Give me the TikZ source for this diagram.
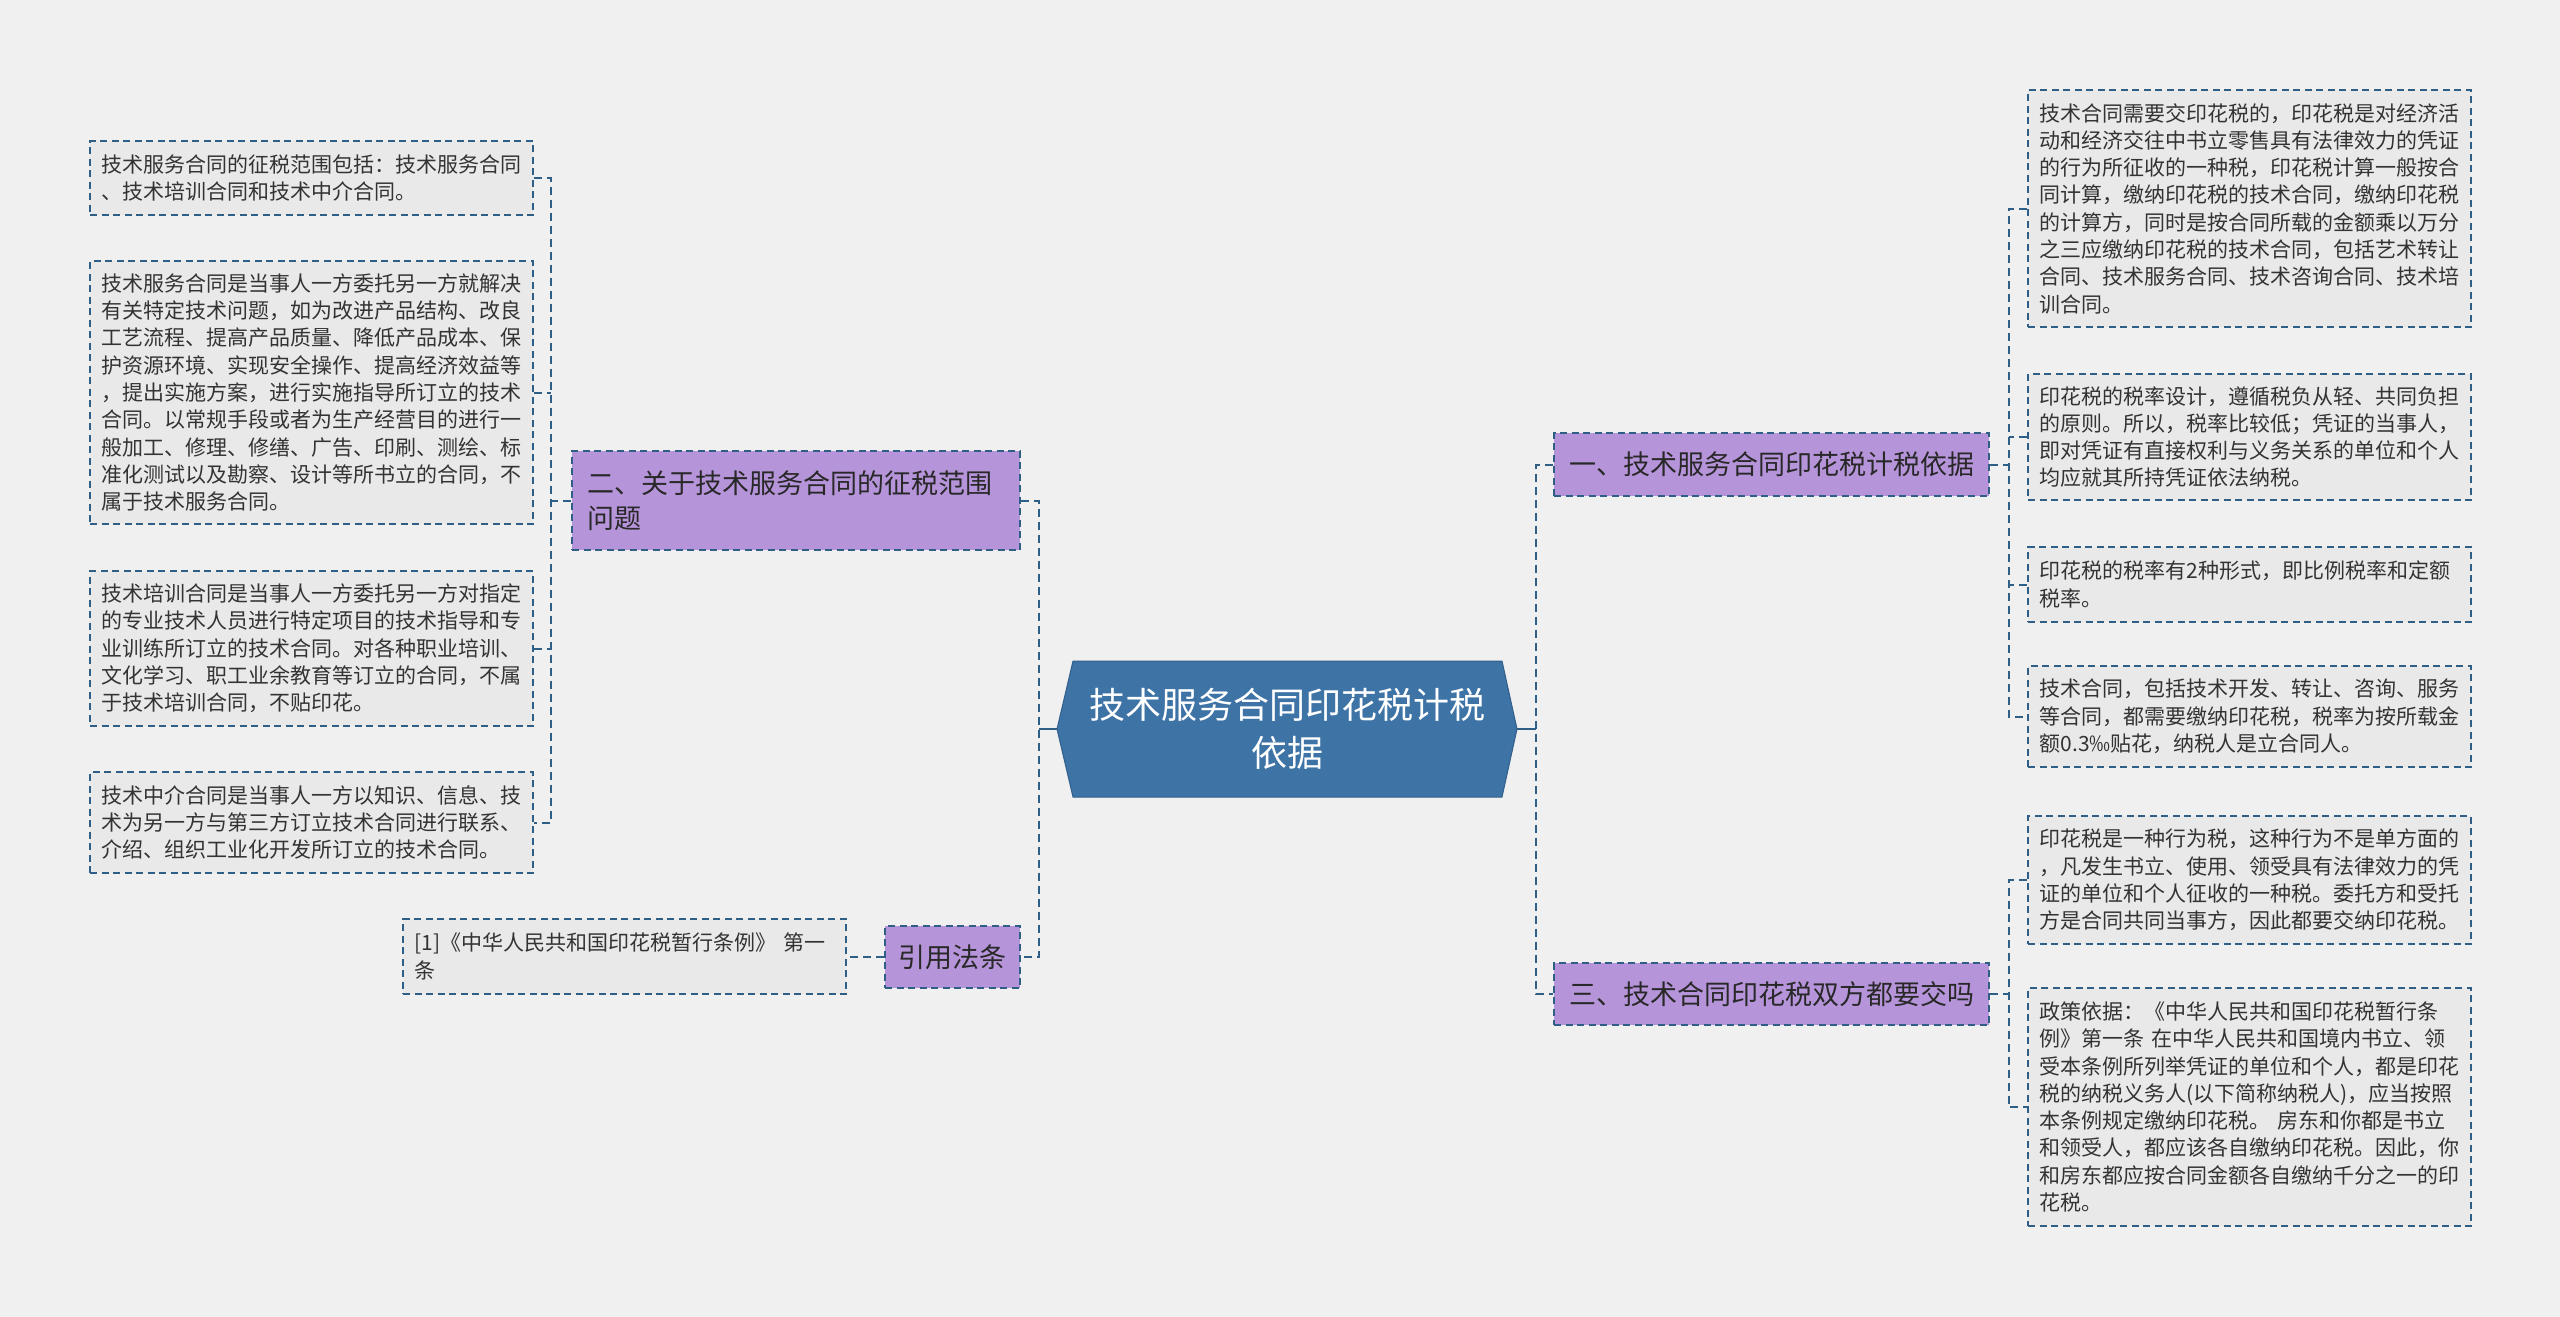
\documentclass[tikz,border=0pt]{standalone}
\usepackage{fontspec}
\setmainfont{Noto Sans CJK SC}
\definecolor{bgc}{RGB}{240,240,240}
\definecolor{linec}{RGB}{47,95,135}
\definecolor{leaffill}{RGB}{233,233,233}
\definecolor{purp}{RGB}{182,148,218}
\definecolor{hexfill}{RGB}{62,115,166}
\definecolor{hexline}{RGB}{50,95,140}
\definecolor{txt}{RGB}{51,51,51}
\definecolor{btxt}{RGB}{40,40,40}
\tikzset{
  leaf/.style={draw=linec, line width=1.6pt, dash pattern=on 7pt off 4.5pt, fill=leaffill,
    text=txt, font=\fontsize{21}{27.3}\selectfont, align=left, text width=420pt,
    inner xsep=11.5pt, inner ysep=0pt},
  branch/.style={draw=linec, line width=1.6pt, dash pattern=on 7pt off 4.5pt, fill=purp,
    text=btxt, font=\fontsize{27}{35}\selectfont, inner ysep=0pt},
  hub/.style={text=white, font=\fontsize{36}{48}\selectfont, align=center,
    minimum width=460pt, minimum height=136pt, inner sep=0pt},
  conn/.style={draw=linec, line width=2pt, dash pattern=on 8pt off 5pt},
  stub/.style={draw=linec, line width=2.4pt}
}
\begin{document}
\begin{tikzpicture}[x=1pt,y=-1pt]
\fill[bgc] (0,0) rectangle (2560,1317);
\useasboundingbox (0,0) rectangle (2560,1317);

% center hexagon
\fill[hexfill, draw=hexline, line width=1pt] (1073,661) -- (1502,661) -- (1517,729) -- (1502,797) -- (1073,797) -- (1057,729) -- cycle;
\node[hub] (c) at (1287,729) {技术服务合同印花税计税\\依据};

% main branches
\node[branch, align=left, text width=418pt, inner xsep=15pt, minimum height=99pt] (n2) at (796,500.5) {二、关于技术服务合同的征税范围\\问题};
\node[branch, align=center, text width=108pt, inner xsep=13.5pt, minimum height=62pt] (n4) at (952.5,957) {引用法条};
\node[branch, align=left, text width=405pt, inner xsep=15pt, minimum height=63pt] (n1) at (1771.5,464.5) {一、技术服务合同印花税计税依据};
\node[branch, align=left, text width=405pt, inner xsep=15pt, minimum height=62pt] (n3) at (1771.5,994) {三、技术合同印花税双方都要交吗};

% left leaves
\node[leaf, minimum height=74pt] (L1) at (311.5,178) {技术服务合同的征税范围包括：技术服务合同\\、技术培训合同和技术中介合同。};
\node[leaf, minimum height=263pt] (L2) at (311.5,392.5) {技术服务合同是当事人一方委托另一方就解决\\有关特定技术问题，如为改进产品结构、改良\\工艺流程、提高产品质量、降低产品成本、保\\护资源环境、实现安全操作、提高经济效益等\\，提出实施方案，进行实施指导所订立的技术\\合同。以常规手段或者为生产经营目的进行一\\般加工、修理、修缮、广告、印刷、测绘、标\\准化测试以及勘察、设计等所书立的合同，不\\属于技术服务合同。};
\node[leaf, minimum height=155pt] (L3) at (311.5,648.5) {技术培训合同是当事人一方委托另一方对指定\\的专业技术人员进行特定项目的技术指导和专\\业训练所订立的技术合同。对各种职业培训、\\文化学习、职工业余教育等订立的合同，不属\\于技术培训合同，不贴印花。};
\node[leaf, minimum height=101pt] (L4) at (311.5,822.5) {技术中介合同是当事人一方以知识、信息、技\\术为另一方与第三方订立技术合同进行联系、\\介绍、组织工业化开发所订立的技术合同。};
\node[leaf, minimum height=75pt] (cit) at (624.5,956.5) {[1]《中华人民共和国印花税暂行条例》 第一\\条};

% right leaves
\node[leaf, minimum height=237pt] (R1) at (2249.5,208.5) {技术合同需要交印花税的，印花税是对经济活\\动和经济交往中书立零售具有法律效力的凭证\\的行为所征收的一种税，印花税计算一般按合\\同计算，缴纳印花税的技术合同，缴纳印花税\\的计算方，同时是按合同所载的金额乘以万分\\之三应缴纳印花税的技术合同，包括艺术转让\\合同、技术服务合同、技术咨询合同、技术培\\训合同。};
\node[leaf, minimum height=126pt] (R2) at (2249.5,437) {印花税的税率设计，遵循税负从轻、共同负担\\的原则。所以，税率比较低；凭证的当事人，\\即对凭证有直接权利与义务关系的单位和个人\\均应就其所持凭证依法纳税。};
\node[leaf, minimum height=75pt] (R3) at (2249.5,584.5) {印花税的税率有2种形式，即比例税率和定额\\税率。};
\node[leaf, minimum height=101pt] (R4) at (2249.5,716.5) {技术合同，包括技术开发、转让、咨询、服务\\等合同，都需要缴纳印花税，税率为按所载金\\额0.3‰贴花，纳税人是立合同人。};
\node[leaf, minimum height=128pt] (R5) at (2249.5,880) {印花税是一种行为税，这种行为不是单方面的\\，凡发生书立、使用、领受具有法律效力的凭\\证的单位和个人征收的一种税。委托方和受托\\方是合同共同当事方，因此都要交纳印花税。};
\node[leaf, minimum height=238pt] (R6) at (2249.5,1107) {政策依据：《中华人民共和国印花税暂行条\\例》第一条 在中华人民共和国境内书立、领\\受本条例所列举凭证的单位和个人，都是印花\\税的纳税义务人(以下简称纳税人)，应当按照\\本条例规定缴纳印花税。 房东和你都是书立\\和领受人，都应该各自缴纳印花税。因此，你\\和房东都应按合同金额各自缴纳千分之一的印\\花税。};

% spine coordinates
\coordinate (cl) at ([xshift=-18pt]c.west);
\coordinate (cr) at ([xshift=19pt]c.east);
\coordinate (s2) at ([xshift=-20pt]n2.west);
\coordinate (s1) at ([xshift=19pt]n1.east);
\coordinate (s3) at ([xshift=19pt]n3.east);

% center connectors
\draw[stub] (c.west) -- (cl);
\draw[stub] (c.east) -- (cr);
\draw[conn] (n2.east) -- (n2.east -| cl) -- (n4.east -| cl) -- (n4.east);
\draw[conn] (n1.west) -- (n1.west -| cr) -- (n3.west -| cr) -- (n3.west);

% branch two
\draw[conn] (n2.west) -- (s2);
\draw[conn] (L1.east) -- (L1.east -| s2) -- (L4.east -| s2) -- (L4.east);
\draw[conn] (L2.east) -- (L2.east -| s2);
\draw[conn] (L3.east) -- (L3.east -| s2);

% citation
\draw[conn] (n4.west) -- (n4.west -| cit.east);

% branch one
\draw[conn] (n1.east) -- (s1);
\draw[conn] (R1.west) -- (R1.west -| s1) -- (R4.west -| s1) -- (R4.west);
\draw[conn] (R2.west) -- (R2.west -| s1);
\draw[conn] (R3.west) -- (R3.west -| s1);

% branch three
\draw[conn] (n3.east) -- (s3);
\draw[conn] (R5.west) -- (R5.west -| s3) -- (R6.west -| s3) -- (R6.west);
\end{tikzpicture}
\end{document}
